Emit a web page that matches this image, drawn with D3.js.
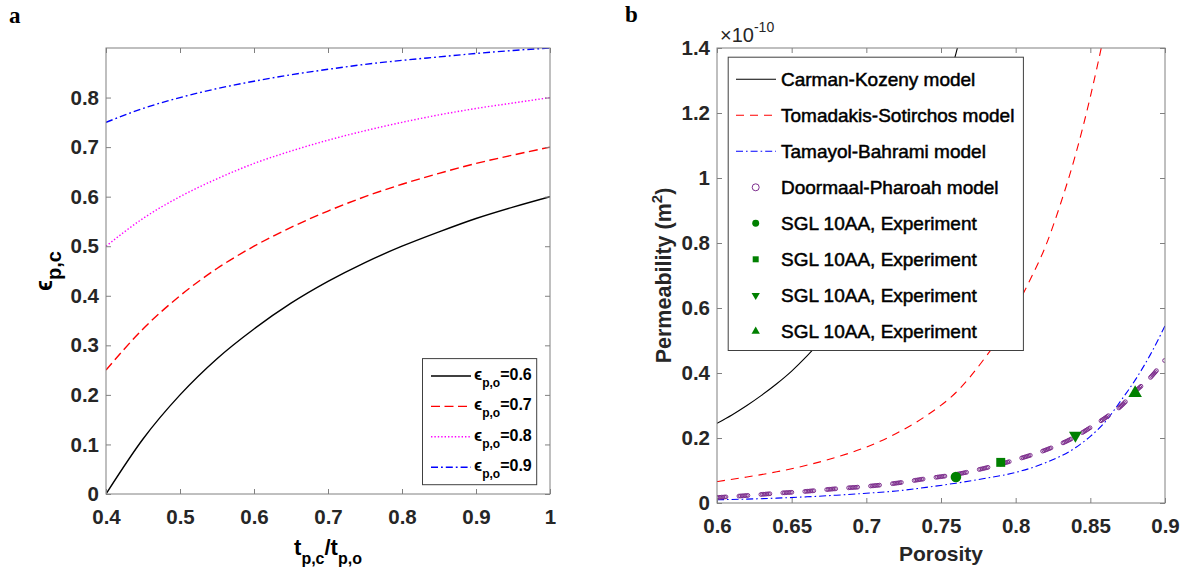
<!DOCTYPE html>
<html>
<head>
<meta charset="utf-8">
<script src="https://cdn.jsdelivr.net/npm/d3@7"></script>
<style>
  body { margin: 0; background: #fff; }
  svg { display: block; }
  text { font-family: "Liberation Sans", Arial, sans-serif; }
</style>
</head>
<body>
<svg id="chart" width="1188" height="578"></svg>
<script>
// ---------- Panel a: compressed porosity vs thickness ratio ----------
const thicknessRatio = [0.40, 0.45, 0.50, 0.55, 0.60, 0.65, 0.70, 0.75, 0.80, 0.85, 0.90, 0.95, 1.00];
const epsC_06 = [0.000, 0.111, 0.200, 0.273, 0.333, 0.385, 0.429, 0.467, 0.500, 0.529, 0.556, 0.579, 0.600];
const epsC_07 = [0.250, 0.333, 0.400, 0.455, 0.500, 0.538, 0.571, 0.600, 0.625, 0.647, 0.667, 0.684, 0.700];
const epsC_08 = [0.500, 0.556, 0.600, 0.636, 0.667, 0.692, 0.714, 0.733, 0.750, 0.765, 0.778, 0.789, 0.800];
const epsC_09 = [0.750, 0.778, 0.800, 0.818, 0.833, 0.846, 0.857, 0.867, 0.875, 0.882, 0.889, 0.895, 0.900];
const legendA = ["0.6", "0.7", "0.8", "0.9"];
const xTicksA = [0.4, 0.5, 0.6, 0.7, 0.8, 0.9, 1.0];
const xTickLabelsA = ["0.4", "0.5", "0.6", "0.7", "0.8", "0.9", "1"];
const yTicksA = [0, 0.1, 0.2, 0.3, 0.4, 0.5, 0.6, 0.7, 0.8];
const yTickLabelsA = ["0", "0.1", "0.2", "0.3", "0.4", "0.5", "0.6", "0.7", "0.8"];

// ---------- Panel b: permeability (x 1e-10 m^2) vs porosity ----------
const porosityCK = [0.60, 0.61, 0.62, 0.63, 0.64, 0.65, 0.66, 0.67, 0.68, 0.69, 0.70, 0.71, 0.72, 0.73, 0.74, 0.75, 0.76, 0.77];
const permCK     = [0.245, 0.271, 0.300, 0.332, 0.367, 0.406, 0.451, 0.501, 0.557, 0.620, 0.692, 0.773, 0.864, 0.968, 1.088, 1.224, 1.383, 1.566];
const porosityTS = [0.60, 0.62, 0.64, 0.66, 0.68, 0.70, 0.72, 0.74, 0.76, 0.78, 0.79, 0.80, 0.81, 0.82, 0.83, 0.84, 0.85, 0.86, 0.87];
const permTS     = [0.066, 0.080, 0.096, 0.116, 0.141, 0.172, 0.214, 0.268, 0.340, 0.450, 0.515, 0.600, 0.690, 0.790, 0.920, 1.070, 1.250, 1.460, 1.700];
const porosityTB = [0.60, 0.62, 0.64, 0.66, 0.68, 0.70, 0.72, 0.74, 0.76, 0.78, 0.80, 0.82, 0.84, 0.85, 0.86, 0.87, 0.88, 0.89, 0.90];
const permTB     = [0.010, 0.012, 0.015, 0.019, 0.024, 0.030, 0.037, 0.048, 0.061, 0.076, 0.094, 0.124, 0.170, 0.205, 0.250, 0.312, 0.378, 0.455, 0.545];
const porosityDP = [0.60, 0.62, 0.64, 0.66, 0.68, 0.70, 0.72, 0.74, 0.76, 0.78, 0.80, 0.82, 0.84, 0.85, 0.86, 0.87, 0.88, 0.89, 0.90];
const permDP     = [0.017, 0.023, 0.030, 0.036, 0.044, 0.051, 0.061, 0.075, 0.088, 0.108, 0.133, 0.163, 0.204, 0.232, 0.262, 0.296, 0.343, 0.385, 0.440];
const expPorosity = [0.76, 0.79, 0.84, 0.88];
const expPerm     = [0.080, 0.125, 0.208, 0.338];
const xTicksB = [0.6, 0.65, 0.7, 0.75, 0.8, 0.85, 0.9];
const xTickLabelsB = ["0.6", "0.65", "0.7", "0.75", "0.8", "0.85", "0.9"];
const yTicksB = [0, 0.2, 0.4, 0.6, 0.8, 1.0, 1.2, 1.4];
const yTickLabelsB = ["0", "0.2", "0.4", "0.6", "0.8", "1", "1.2", "1.4"];
const legendB = ["Carman-Kozeny model", "Tomadakis-Sotirchos model", "Tamayol-Bahrami model",
  "Doormaal-Pharoah model", "SGL 10AA, Experiment", "SGL 10AA, Experiment",
  "SGL 10AA, Experiment", "SGL 10AA, Experiment"];

const svg = d3.select("#chart");
const AXIS_GREY = "#808080";
const TICK_TEXT = "#262626";
const GREEN = "#008000";
const PURPLE = "#7E2F8E";

function drawAxes(g, box, x, y, xt, xl, yt, yl) {
  const style = sel => {
    sel.select(".domain").remove();
    sel.selectAll(".tick line").attr("stroke", AXIS_GREY);
    sel.selectAll(".tick text")
      .attr("fill", TICK_TEXT)
      .style("font-size", "20.5px")
      .style("font-weight", "bold");
  };
  g.append("g").attr("transform", `translate(0,${box.b})`)
    .call(d3.axisBottom(x).tickValues(xt).tickFormat((d, i) => xl[i]).tickSize(-5).tickPadding(15))
    .call(style);
  g.append("g").attr("transform", `translate(0,${box.t})`)
    .call(d3.axisTop(x).tickValues(xt).tickFormat("").tickSize(-5))
    .call(style);
  g.append("g").attr("transform", `translate(${box.l},0)`)
    .call(d3.axisLeft(y).tickValues(yt).tickFormat((d, i) => yl[i]).tickSize(-5).tickPadding(7))
    .call(style);
  g.append("g").attr("transform", `translate(${box.r},0)`)
    .call(d3.axisRight(y).tickValues(yt).tickFormat("").tickSize(-5))
    .call(style);
  g.append("rect")
    .attr("x", box.l).attr("y", box.t)
    .attr("width", box.r - box.l).attr("height", box.b - box.t)
    .attr("fill", "none").attr("stroke", AXIS_GREY).attr("stroke-width", 1);
}

function clipFor(id, box) {
  svg.append("clipPath").attr("id", id).append("rect")
    .attr("x", box.l).attr("y", box.t)
    .attr("width", box.r - box.l).attr("height", box.b - box.t);
  return `url(#${id})`;
}

// ================= Panel a =================
const A = { l: 106, r: 550, t: 48, b: 494 };
const xa = d3.scaleLinear().domain([0.4, 1.0]).range([A.l, A.r]);
const ya = d3.scaleLinear().domain([0, 0.9]).range([A.b, A.t]);
const gA = svg.append("g");
const clipA = clipFor("clipA", A);

const seriesA = [
  { values: epsC_06, color: "#000000", dash: null },
  { values: epsC_07, color: "#FF0000", dash: "9,4.5" },
  { values: epsC_08, color: "#FF00FF", dash: "1.4,2" },
  { values: epsC_09, color: "#0000FF", dash: "7,3,1.8,3" }
];
const lineA = d3.line().x(d => xa(d[0])).y(d => ya(d[1])).curve(d3.curveMonotoneX);
const curvesA = gA.append("g").attr("clip-path", clipA);
seriesA.forEach(s => {
  curvesA.append("path")
    .datum(thicknessRatio.map((t, i) => [t, s.values[i]]))
    .attr("d", lineA)
    .attr("fill", "none")
    .attr("stroke", s.color)
    .attr("stroke-width", 1.4)
    .attr("stroke-dasharray", s.dash);
});
drawAxes(gA, A, xa, ya, xTicksA, xTickLabelsA, yTicksA, yTickLabelsA);

// legend of panel a
const legA = { x: 422.5, y: 358.6, w: 114.2, h: 126.1 };
gA.append("rect").attr("x", legA.x).attr("y", legA.y).attr("width", legA.w).attr("height", legA.h)
  .attr("fill", "#fff").attr("stroke", "#404040").attr("stroke-width", 1);
legendA.forEach((lab, i) => {
  const cy = 376 + i * 30.4;
  gA.append("line").attr("x1", 431).attr("x2", 471).attr("y1", cy).attr("y2", cy)
    .attr("stroke", seriesA[i].color).attr("stroke-width", 1.4)
    .attr("stroke-dasharray", seriesA[i].dash);
  const t = gA.append("text").attr("x", 474).attr("y", cy + 4)
    .style("font-weight", "bold").style("font-size", "16px").attr("fill", "#000");
  t.append("tspan").style("font-size", "17px").text("\u03F5");
  t.append("tspan").attr("dy", 7).style("font-size", "12px").text("p,o");
  t.append("tspan").attr("dy", -7).text("=" + lab);
});

// axis titles of panel a
const xTitleA = gA.append("text").attr("x", (A.l + A.r) / 2).attr("y", 554.5)
  .attr("text-anchor", "middle").style("font-weight", "bold").style("font-size", "22px").attr("fill", "#000");
xTitleA.append("tspan").text("t");
xTitleA.append("tspan").attr("dy", 9).style("font-size", "16px").text("p,c");
xTitleA.append("tspan").attr("dy", -9).text("/t");
xTitleA.append("tspan").attr("dy", 9).style("font-size", "16px").text("p,o");

const yTitleA = gA.append("text")
  .attr("transform", `translate(52,${(A.t + A.b) / 2}) rotate(-90)`)
  .attr("text-anchor", "middle").style("font-weight", "bold").style("font-size", "23px").attr("fill", "#000");
yTitleA.append("tspan").text("\u03F5");
yTitleA.append("tspan").attr("dy", 9).style("font-size", "20px").text("p,c");

svg.append("text").attr("x", 9).attr("y", 22.5)
  .style("font-family", "'Liberation Serif', 'Times New Roman', serif")
  .style("font-weight", "bold").style("font-size", "23px").text("a");

// ================= Panel b =================
const B = { l: 717, r: 1165, t: 48, b: 503 };
const xb = d3.scaleLinear().domain([0.6, 0.9]).range([B.l, B.r]);
const yb = d3.scaleLinear().domain([0, 1.4]).range([B.b, B.t]);
const gB = svg.append("g");
const clipB = clipFor("clipB", B);
const lineB = d3.line().x(d => xb(d[0])).y(d => yb(d[1])).curve(d3.curveMonotoneX);

const seriesB = [
  { por: porosityCK, perm: permCK, color: "#000000", dash: null },
  { por: porosityTS, perm: permTS, color: "#FF0000", dash: "8,6" },
  { por: porosityTB, perm: permTB, color: "#0000FF", dash: "7,3,1.6,3" }
];
const curvesB = gB.append("g").attr("clip-path", clipB);
seriesB.forEach(s => {
  curvesB.append("path")
    .datum(s.por.map((p, i) => [p, s.perm[i]]))
    .attr("d", lineB)
    .attr("fill", "none")
    .attr("stroke", s.color)
    .attr("stroke-width", 1.1)
    .attr("stroke-dasharray", s.dash);
});

// Doormaal-Pharoah model: open ring markers strung along the curve in short runs
const dpPath = curvesB.append("path")
  .datum(porosityDP.map((p, i) => [p, permDP[i]]))
  .attr("d", lineB).attr("fill", "none").attr("stroke", "none");
const dpNode = dpPath.node();
const dpLen = dpNode.getTotalLength();
const ringG = curvesB.append("g");
for (let s = 0; s < dpLen; s += 22) {
  for (let j = 0; j < 7; j++) {
    const pos = s + j * 1.5;
    if (pos > dpLen) break;
    const pt = dpNode.getPointAtLength(pos);
    ringG.append("circle").attr("cx", pt.x).attr("cy", pt.y).attr("r", 1.9)
      .attr("fill", "none").attr("stroke", PURPLE).attr("stroke-width", 1);
  }
}

// experimental points
const expSymbols = [
  { type: d3.symbolCircle, size: 88, rot: 0 },
  { type: d3.symbolSquare, size: 80, rot: 0 },
  { type: d3.symbolTriangle, size: 72, rot: 180 },
  { type: d3.symbolTriangle, size: 80, rot: 0 }
];
expPorosity.forEach((p, i) => {
  const s = expSymbols[i];
  gB.append("path")
    .attr("d", d3.symbol().type(s.type).size(s.size)())
    .attr("transform", `translate(${xb(p)},${yb(expPerm[i])}) rotate(${s.rot})`)
    .attr("fill", GREEN);
});

drawAxes(gB, B, xb, yb, xTicksB, xTickLabelsB, yTicksB, yTickLabelsB);

// exponent label
const expLab = gB.append("text").attr("x", 720).attr("y", 42)
  .style("font-size", "20px").attr("fill", TICK_TEXT);
expLab.append("tspan").text("\u00D710");
expLab.append("tspan").attr("dy", -10).style("font-size", "14px").text("-10");

// legend of panel b
const legB = { x: 728.2, y: 57.2, w: 295.2, h: 293.3 };
gB.append("rect").attr("x", legB.x).attr("y", legB.y).attr("width", legB.w).attr("height", legB.h)
  .attr("fill", "#fff").attr("stroke", "#404040").attr("stroke-width", 1);
const legSymbols = [
  { type: d3.symbolCircle, size: 38, rot: 0 },
  { type: d3.symbolSquare, size: 36, rot: 0 },
  { type: d3.symbolTriangle, size: 30, rot: 180 },
  { type: d3.symbolTriangle, size: 30, rot: 0 }
];
legendB.forEach((lab, i) => {
  const cy = 79.3 + i * 36.0;
  if (i < 3) {
    gB.append("line").attr("x1", 736).attr("x2", 776).attr("y1", cy).attr("y2", cy)
      .attr("stroke", seriesB[i].color).attr("stroke-width", 1.1)
      .attr("stroke-dasharray", seriesB[i].dash);
  } else if (i === 3) {
    gB.append("circle").attr("cx", 755.7).attr("cy", cy).attr("r", 3.5)
      .attr("fill", "none").attr("stroke", PURPLE).attr("stroke-width", 1);
  } else {
    const s = legSymbols[i - 4];
    gB.append("path")
      .attr("d", d3.symbol().type(s.type).size(s.size)())
      .attr("transform", `translate(755.7,${cy}) rotate(${s.rot})`)
      .attr("fill", GREEN);
  }
  gB.append("text").attr("x", 781).attr("y", cy + 7)
    .style("font-size", "19px").attr("fill", "#000")
    .attr("stroke", "#000").attr("stroke-width", 0.5)
    .text(lab);
});

// axis titles of panel b
gB.append("text").attr("x", (B.l + B.r) / 2).attr("y", 561)
  .attr("text-anchor", "middle").style("font-weight", "bold").style("font-size", "21px")
  .attr("fill", "#262626").text("Porosity");
const yTitleB = gB.append("text")
  .attr("transform", `translate(671,${(B.t + B.b) / 2}) rotate(-90)`)
  .attr("text-anchor", "middle").style("font-weight", "bold").style("font-size", "21.5px")
  .attr("fill", "#262626");
yTitleB.append("tspan").text("Permeability (m");
yTitleB.append("tspan").attr("dy", -9).style("font-size", "15px").text("2");
yTitleB.append("tspan").attr("dy", 9).text(")");

svg.append("text").attr("x", 625).attr("y", 22)
  .style("font-family", "'Liberation Serif', 'Times New Roman', serif")
  .style("font-weight", "bold").style("font-size", "23px").text("b");
</script>
</body>
</html>
